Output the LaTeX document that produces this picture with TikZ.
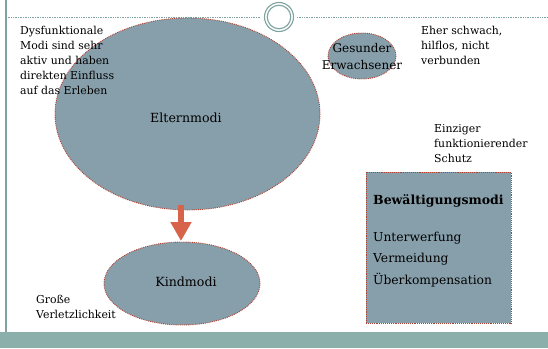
\documentclass[tikz,border=0pt]{standalone}
\usepackage{fontspec}
\setmainfont{DejaVu Serif}
\usetikzlibrary{arrows.meta}
\definecolor{fillgray}{HTML}{879FAA}
\definecolor{edgered}{HTML}{B04030}
\definecolor{teal}{HTML}{8BAFAB}
\definecolor{tealline}{HTML}{7FA3A0}
\definecolor{arrowred}{HTML}{D6634A}
\tikzset{
  x=1pt,y=-1pt,
  mode/.style={draw=edgered, densely dotted, line width=0.9pt, fill=fillgray},
  lbl/.style={font=\fontsize{10.9}{15}\selectfont, align=left, anchor=north west, inner sep=0pt, text=black},
  big/.style={font=\fontsize{12.6}{14}\selectfont, text=black, inner sep=0pt},
}
\begin{document}
\begin{tikzpicture}
\useasboundingbox (0,0) rectangle (548,348);
% frame
\fill[teal] (0,332) rectangle (548,348);
\draw[tealline, line width=1.2pt] (6,0) coordinate (lt) -- (6,332) coordinate (lb);
\coordinate (tl) at (6,17);
\coordinate (tr) at (548,17);
\node[circle, fill=white, draw=tealline, line width=1.1pt, minimum size=29pt, inner sep=0pt] (ring) at (279,17) {};
\node[circle, draw=tealline, line width=1.1pt, minimum size=23.5pt, inner sep=0pt] (ringin) at (279,17) {};
\draw[tealline, densely dotted, line width=0.7pt] (tl) -- ([xshift=-3pt]ring.west);
\draw[tealline, densely dotted, line width=0.7pt] ([xshift=3pt]ring.east) -- (tr);
% ellipses
\draw[mode] (187.5,114) ellipse [x radius=132.5, y radius=96];
\node[big] (eltern) at (186,118) {Elternmodi};
\draw[mode] (182,283.5) ellipse [x radius=78, y radius=41.5];
\node[big] (kind) at (186,282) {Kindmodi};
\draw[mode] (362,56) ellipse [x radius=34, y radius=23];
\node[big, align=center, font=\fontsize{12}{16.5}\selectfont] (gesund) at (362,56.5) {Gesunder\\Erwachsener};
% arrow
\coordinate (as) at (181,205);
\coordinate (ae) at (181,241);
\draw[arrowred, line width=6.5pt, -{Triangle[width=20pt,length=19pt]}] (as) -- (ae);
% box
\node[mode, minimum width=145pt, minimum height=151pt, inner sep=0pt] (box) at (438.5,247.5) {};
\node[big, anchor=west, font=\bfseries\fontsize{12.5}{14}\selectfont] (bew) at (373,201) {Bewältigungsmodi};
\node[big, anchor=west, font=\fontsize{12.3}{14}\selectfont] (u) at (373,238) {Unterwerfung};
\node[big, anchor=west, font=\fontsize{12.3}{14}\selectfont] (v) at (373,259.5) {Vermeidung};
\node[big, anchor=west, font=\fontsize{12.3}{14}\selectfont] (ue) at (373,280) {Überkompensation};
% labels
\node[lbl] (dys) at (20,26) {Dysfunktionale\\Modi sind sehr\\aktiv und haben\\direkten Einfluss\\auf das Erleben};
\node[lbl] (eher) at (421,26) {Eher schwach,\\hilflos, nicht\\verbunden};
\node[lbl] (einz) at (434,124) {Einziger\\funktionierender\\Schutz};
\node[lbl] (gross) at (36,295) {Große\\Verletzlichkeit};
\end{tikzpicture}
\end{document}
